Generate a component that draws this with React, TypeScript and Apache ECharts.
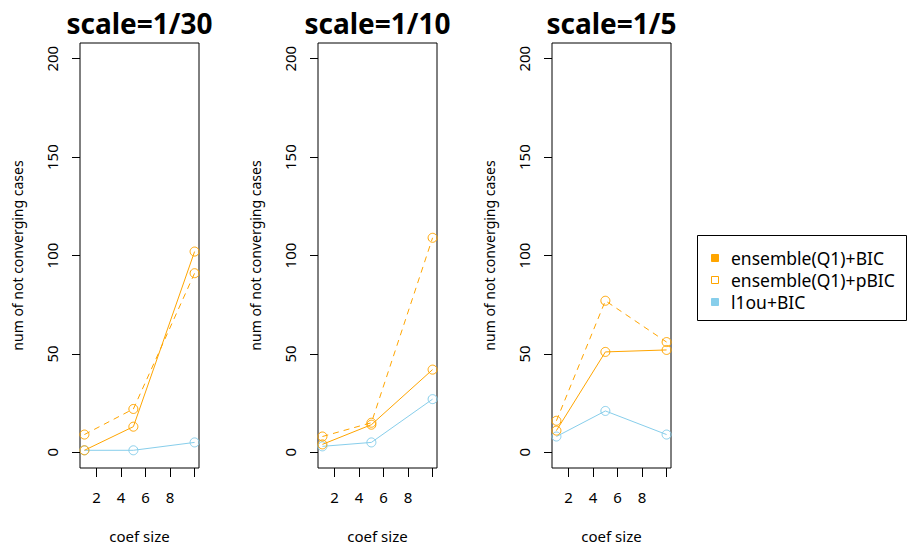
import React, { useEffect, useRef } from "react";
import * as echarts from "echarts";

const xValues = [1, 5, 10];
const panelTitles = ["scale=1/30", "scale=1/10", "scale=1/5"];
const seriesNames = ["ensemble(Q1)+BIC", "ensemble(Q1)+pBIC", "l1ou+BIC"];

const bic30 = [1, 13, 102];
const pbic30 = [9, 22, 91];
const l1ou30 = [1, 1, 5];

const bic10 = [4, 14, 42];
const pbic10 = [8, 15, 109];
const l1ou10 = [3, 5, 27];

const bic5 = [11, 51, 52];
const pbic5 = [16, 77, 56];
const l1ou5 = [8, 21, 9];

const xTicks = [2, 4, 6, 8, 10];
const xTickLabels = [2, 4, 6, 8];
const yTicks = [0, 50, 100, 150, 200];

const panelData = [
  [bic30, pbic30, l1ou30],
  [bic10, pbic10, l1ou10],
  [bic5, pbic5, l1ou5],
];

const ORANGE = "#FFA500";
const BLUE = "#87CEEB";
const FONT = "Noto Sans";

export default function App() {
  const ref = useRef<HTMLDivElement>(null);
  useEffect(() => {
    if (!ref.current) return;
    const chart = echarts.init(ref.current, null, { renderer: "svg" });
    const gridLefts = [80, 318, 552];
    const gridWidth = 119;
    const top = 43;
    const height = 426;

    const grids = gridLefts.map((l) => ({
      left: l,
      top,
      width: gridWidth,
      height,
      show: true,
      borderColor: "#000",
      borderWidth: 1,
      backgroundColor: "transparent",
    }));

    const xAxes = gridLefts.map((_, i) => ({
      type: "value",
      gridIndex: i,
      min: 0.64,
      max: 10.36,
      position: "bottom",
      name: "coef size",
      nameLocation: "middle",
      nameGap: 60,
      nameTextStyle: { fontFamily: FONT, fontSize: 15, color: "#000" },
      splitLine: { show: false },
      axisLine: { show: false, onZero: false },
      axisTick: {
        show: true,
        length: 9,
        customValues: xTicks,
        lineStyle: { color: "#000" },
      },
      axisLabel: {
        customValues: xTickLabels,
        margin: 21,
        fontFamily: FONT,
        fontSize: 15,
        color: "#000",
      },
    }));

    const yAxes = gridLefts.map((_, i) => ({
      type: "value",
      gridIndex: i,
      min: -8,
      max: 208,
      position: "left",
      name: "num of not converging cases",
      nameLocation: "middle",
      nameGap: 56,
      nameTextStyle: { fontFamily: FONT, fontSize: 14, color: "#000" },
      splitLine: { show: false },
      axisLine: { show: false, onZero: false },
      axisTick: {
        show: true,
        length: 8,
        customValues: yTicks,
        lineStyle: { color: "#000" },
      },
      axisLabel: {
        customValues: yTicks,
        rotate: 90,
        margin: 21,
        fontFamily: FONT,
        fontSize: 15,
        color: "#000",
      },
    }));

    const series: any[] = [];
    panelData.forEach((arrs, i) => {
      arrs.forEach((vals, k) => {
        const color = k === 2 ? BLUE : ORANGE;
        series.push({
          type: "line",
          name: seriesNames[k],
          xAxisIndex: i,
          yAxisIndex: i,
          data: xValues.map((x, j) => [x, vals[j]]),
          symbol: "circle",
          symbolSize: 9,
          lineStyle: { color, width: 1, type: k === 1 ? [6, 5] : "solid" },
          itemStyle: { color: "rgba(0,0,0,0)", borderColor: color, borderWidth: 1 },
          emphasis: { disabled: true },
          z: 3 - k,
        });
      });
    });

    const graphics: any[] = [];
    panelTitles.forEach((t, i) => {
      graphics.push({
        type: "text",
        x: gridLefts[i] + gridWidth / 2,
        y: 23,
        style: {
          text: t,
          fontFamily: FONT,
          fontWeight: "bold",
          fontSize: 28,
          fill: "#000",
          align: "center",
          verticalAlign: "middle",
        },
      });
    });
    graphics.push({
      type: "rect",
      shape: { x: 697.5, y: 235.5, width: 209, height: 85 },
      style: { fill: "#fff", stroke: "#000", lineWidth: 1 },
    });
    const legendYs = [258, 280, 302];
    const legendStyles = [
      { fill: ORANGE, stroke: ORANGE },
      { fill: "#fff", stroke: ORANGE },
      { fill: BLUE, stroke: BLUE },
    ];
    seriesNames.forEach((n, k) => {
      graphics.push({
        type: "rect",
        shape: { x: 711.5, y: legendYs[k] - 3.5, width: 7, height: 7 },
        style: { ...legendStyles[k], lineWidth: 1 },
      });
      graphics.push({
        type: "text",
        x: 731,
        y: legendYs[k],
        style: {
          text: n,
          fontFamily: FONT,
          fontSize: 17.5,
          fill: "#000",
          align: "left",
          verticalAlign: "middle",
        },
      });
    });

    chart.setOption({
      animation: false,
      backgroundColor: "#fff",
      grid: grids,
      xAxis: xAxes,
      yAxis: yAxes,
      series,
      graphic: graphics,
    });
    return () => chart.dispose();
  }, []);
  return (
    <div
      ref={ref}
      style={{ position: "fixed", left: 0, top: 0, width: 907, height: 548 }}
    />
  );
}
